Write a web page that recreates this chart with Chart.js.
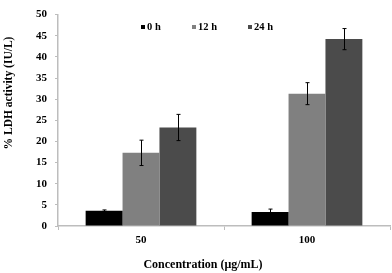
<!DOCTYPE html>
<html><head><meta charset="utf-8">
<script src="https://cdn.jsdelivr.net/npm/chart.js@4/dist/chart.umd.min.js"></script>
<style>html,body{margin:0;padding:0;background:#fff}#w{width:392px;height:273px;position:relative}</style>
</head><body><div id="w"><canvas id="c"></canvas></div>
<script>
const categories = ['50', '100'];
const seriesLabels = ['0 h', '12 h', '24 h'];
const values0h = [3.6, 3.3];
const values12h = [17.3, 31.3];
const values24h = [23.3, 44.2];
const err0h = [0.2, 0.7];
const err12h = [3.0, 2.6];
const err24h = [3.1, 2.5];
const yTicks = [0, 5, 10, 15, 20, 25, 30, 35, 40, 45, 50];
const xTitle = 'Concentration (μg/mL)';
const yTitle = '% LDH activity (IU/L)';

const colors = ['#000000', '#808080', '#4b4b4b'];
const errs = [err0h, err12h, err24h];
const FONT = '"Liberation Serif", "Times New Roman", serif';

const errorBars = {
  id: 'errorBars',
  afterDatasetsDraw(chart) {
    const ctx = chart.ctx, y = chart.scales.y;
    ctx.save();
    ctx.strokeStyle = '#000'; ctx.lineWidth = 1;
    chart.data.datasets.forEach((ds, i) => {
      const meta = chart.getDatasetMeta(i);
      meta.data.forEach((bar, j) => {
        const v = ds.data[j], e = errs[i][j];
        const x = Math.round(bar.x) + 0.5;
        const yt = y.getPixelForValue(v + e), yb = y.getPixelForValue(v - e);
        ctx.beginPath();
        ctx.moveTo(x, yt); ctx.lineTo(x, yb);
        ctx.moveTo(x - 2, yt); ctx.lineTo(x + 2, yt);
        ctx.moveTo(x - 2, yb); ctx.lineTo(x + 2, yb);
        ctx.stroke();
      });
    });
    ctx.restore();
  }
};

const texts = {
  id: 'texts',
  afterDraw(chart) {
    const ctx = chart.ctx;
    ctx.save();
    ctx.fillStyle = '#000';
    // legend
    ctx.font = 'bold 10.5px ' + FONT;
    ctx.textBaseline = 'middle'; ctx.textAlign = 'left';
    const lx = [141, 192, 248];
    chart.data.datasets.forEach((ds, i) => {
      ctx.fillStyle = ds.backgroundColor;
      ctx.fillRect(lx[i], 25, 4, 4);
      ctx.fillStyle = '#000';
      ctx.fillText(ds.label, lx[i] + 6, 27.5);
    });
    // axis titles
    ctx.font = 'bold 12px ' + FONT;
    ctx.textAlign = 'center';
    ctx.fillText(xTitle, 203, 265);
    ctx.translate(9, 93);
    ctx.rotate(-Math.PI / 2);
    ctx.font = 'bold 11.5px ' + FONT;
    ctx.fillText(yTitle, 0, 0);
    ctx.restore();
  }
};

new Chart(document.getElementById('c'), {
  type: 'bar',
  data: {
    labels: categories,
    datasets: [
      { label: seriesLabels[0], data: values0h, backgroundColor: colors[0] },
      { label: seriesLabels[1], data: values12h, backgroundColor: colors[1] },
      { label: seriesLabels[2], data: values24h, backgroundColor: colors[2] }
    ]
  },
  options: {
    responsive: true, maintainAspectRatio: false, animation: false,
    devicePixelRatio: 1,
    layout: { padding: { top: 6, right: 2, left: 0, bottom: 0 } },
    datasets: { bar: { categoryPercentage: 0.667, barPercentage: 1.0, borderWidth: 0 } },
    plugins: { legend: { display: false }, tooltip: { enabled: false } },
    scales: {
      x: {
        offset: true,
        grid: { display: true, drawOnChartArea: false, offset: true, tickLength: 4, color: '#bdbdbd', tickColor: '#bdbdbd' },
        border: { color: '#bdbdbd', width: 1.5 },
        ticks: { color: '#000', font: { family: FONT, size: 11, weight: 'bold' }, padding: 4 },
        afterFit(s) { s.height = 47; }
      },
      y: {
        min: 0, max: 50,
        afterBuildTicks(s) { s.ticks = yTicks.map(v => ({ value: v })); },
        grid: { display: true, drawOnChartArea: false, tickLength: 3, color: '#bdbdbd', tickColor: '#bdbdbd' },
        border: { color: '#bdbdbd', width: 1.5 },
        ticks: { color: '#000', font: { family: FONT, size: 11, weight: 'bold' }, padding: 8 },
        afterFit(s) { s.width = 58; }
      }
    }
  },
  plugins: [errorBars, texts]
});
</script></body></html>
